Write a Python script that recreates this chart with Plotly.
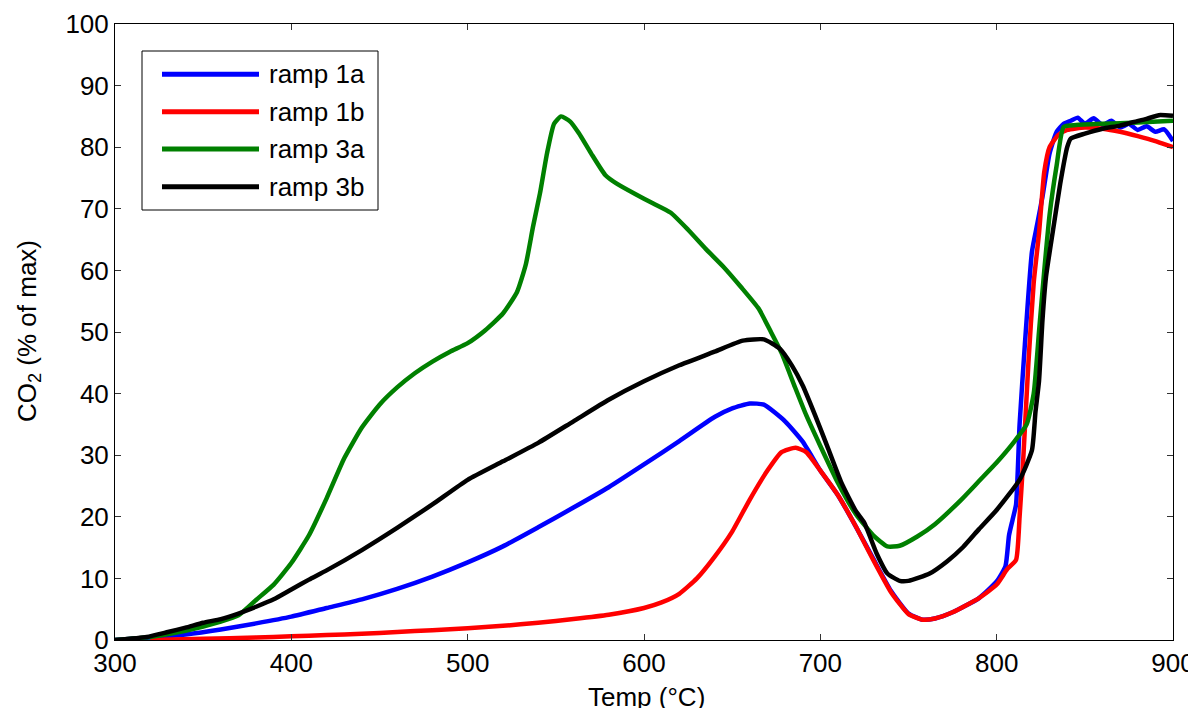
import plotly.graph_objects as go

# ---- data ----
ramp1a_x = [300, 320, 340, 360, 380, 400, 420, 440, 460, 480, 500, 520, 540, 560, 580, 600, 620, 640, 650, 660, 668,
            680, 690, 700, 710, 720, 730, 740, 750, 758, 765, 775, 790, 800, 805, 807, 809, 811, 813, 816, 820, 823,
            826, 830, 834, 838, 842, 846, 850, 855, 860, 865, 870, 875, 880, 885, 890, 895, 900]
ramp1a_y = [0, 0.4, 0.9, 1.7, 2.7, 3.8, 5.2, 6.6, 8.3, 10.3, 12.6, 15.2, 18.3, 21.5, 24.8, 28.5, 32.3, 36.2, 37.6, 38.4, 38.2,
            35.5, 32.2, 27.5, 23.5, 18.5, 13.2, 8.0, 4.3, 3.3, 3.5, 4.5, 6.8, 9.5, 12, 17, 19.5, 22, 35, 48, 63, 67.5,
            72, 79, 82.5, 83.8, 84.3, 84.8, 83.8, 84.7, 83.6, 84.3, 83.2, 83.8, 82.8, 83.4, 82.5, 82.9, 81]

ramp1b_x = [320, 350, 380, 400, 420, 440, 460, 480, 500, 520, 540, 560, 580, 600, 610, 620, 630, 640, 650, 660, 670,
            678, 686, 692, 700, 710, 720, 730, 740, 750, 758, 765, 775, 790, 800, 806, 811, 813, 815, 818, 821, 824,
            827, 830, 835, 840, 850, 860, 870, 880, 890, 895, 900]
ramp1b_y = [0, 0.2, 0.4, 0.6, 0.8, 1.0, 1.3, 1.6, 1.9, 2.3, 2.8, 3.4, 4.1, 5.2, 6.1, 7.5, 10, 13.5, 17.6, 22.8, 27.5,
            30.5, 31.2, 30.5, 27.5, 23.5, 18.5, 13, 7.8, 4.2, 3.3, 3.5, 4.5, 6.8, 9.0, 11.5, 13, 20, 29, 45, 58, 66,
            76, 80, 82, 82.8, 83.2, 83, 82.5, 81.8, 81, 80.5, 80]

ramp3a_x = [300, 320, 340, 360, 370, 380, 390, 400, 410, 420, 430, 440, 450, 460, 470, 480, 490, 500, 510, 520, 528,
            533, 537, 541, 545, 549, 553, 558, 563, 570, 578, 585, 595, 605, 615, 625, 635, 645, 655, 665, 672, 678,
            685, 692, 700, 710, 720, 730, 738, 745, 755, 765, 780, 790, 800, 810, 817, 821, 824, 827, 830, 834, 838,
            845, 860, 880, 900]
ramp3a_y = [0, 0.5, 1.5, 3.0, 4.0, 6.5, 9, 12.5, 17, 23, 29.5, 34.5, 38.2, 41, 43.3, 45.2, 46.8, 48.2, 50.3, 53, 56.5,
            61, 67, 72.5, 79, 83.8, 85, 84.2, 82.3, 79, 75.5, 74, 72.4, 70.9, 69.4, 66.6, 63.5, 60.6, 57.3, 53.8, 50.0, 46.6,
            41.5, 36.5, 31.5, 25.5, 20.5, 17, 15.2, 15.3, 16.8, 18.8, 22.8, 25.8, 28.8, 32.2, 35, 40, 50, 60, 69, 77, 83.3,
            83.6, 83.8, 84, 84.3]

ramp3b_x = [300, 318, 330, 340, 350, 360, 370, 380, 390, 400, 410, 420, 440, 460, 480, 500, 520, 540, 560, 580, 600,
            620, 640, 656, 668, 677, 684, 690, 697, 704, 712, 720, 725, 732, 738, 745, 750, 762, 772, 781, 790, 800,
            813, 820, 822, 824, 826, 828, 832, 836, 840, 842, 850, 860, 870, 878, 885, 892, 900]
ramp3b_y = [0, 0.5, 1.3, 2.0, 2.8, 3.4, 4.3, 5.4, 6.6, 8.2, 9.8, 11.3, 14.6, 18.2, 22, 26, 29, 32, 35.5, 39, 42,
            44.6, 46.8, 48.6, 48.8, 47.3, 44.5, 41.3, 36.5, 31.4, 25.5, 21, 19, 14, 10.8, 9.6, 9.6, 10.8, 12.8, 15.1, 18, 21.1,
            26, 30.8, 37, 42, 52, 59, 66.6, 74, 80, 81.4, 82.2, 83, 83.5, 84.1, 84.6, 85.2, 85.1]

series_names = ["ramp 1a", "ramp 1b", "ramp 3a", "ramp 3b"]
series_colors = ["#0000ff", "#ff0000", "#008000", "#000000"]
x_ticks = [300, 400, 500, 600, 700, 800, 900]
y_ticks = [0, 10, 20, 30, 40, 50, 60, 70, 80, 90, 100]

FONT = "Liberation Sans, Arial, sans-serif"

fig = go.Figure()
for name, color, xs, ys in zip(series_names, series_colors,
                               [ramp1a_x, ramp1b_x, ramp3a_x, ramp3b_x],
                               [ramp1a_y, ramp1b_y, ramp3a_y, ramp3b_y]):
    fig.add_trace(go.Scatter(x=xs, y=ys, mode="lines", name=name,
                             line=dict(color=color, width=4.5, shape="spline", smoothing=0.5),
                             showlegend=False))

# layout geometry (the page body adds an 8px offset, so the figure is drawn 8px smaller)
OFF = 8
W, H = 1188, 700
L, R, T, B = 107, 23, 16, 68
pw, ph = W - L - R, H - T - B
px = lambda p: (p - OFF - L) / pw          # page pixel -> paper fraction
py = lambda p: (H - B - (p - OFF)) / ph

# custom legend (box, sample lines, labels) in paper coordinates
shapes = [dict(type="rect", xref="paper", yref="paper", x0=px(142), x1=px(378), y0=py(210), y1=py(51),
               line=dict(color="#000000", width=1), fillcolor="white", layer="above")]
annotations = []
rows = [74.3, 111.7, 149, 186.7]
for name, color, ry in zip(series_names, series_colors, rows):
    shapes.append(dict(type="line", xref="paper", yref="paper", x0=px(162), x1=px(259), y0=py(ry), y1=py(ry),
                       line=dict(color=color, width=5), layer="above"))
    annotations.append(dict(xref="paper", yref="paper", x=px(267), y=py(ry), text=name, showarrow=False,
                            xanchor="left", yanchor="middle", font=dict(family=FONT, size=26, color="#000000")))

# axis titles
annotations.append(dict(xref="paper", yref="paper", x=px(646), y=py(697), text="Temp (°C)", showarrow=False,
                        xanchor="center", yanchor="middle", font=dict(family=FONT, size=26, color="#000000")))
annotations.append(dict(xref="paper", yref="paper", x=px(28), y=py(331), text="CO<sub>2</sub> (% of max)",
                        showarrow=False, textangle=-90, xanchor="center", yanchor="middle",
                        font=dict(family=FONT, size=26, color="#000000")))

fig.update_layout(
    width=W, height=H,
    margin=dict(l=L, r=R, t=T, b=B, autoexpand=False),
    paper_bgcolor="white", plot_bgcolor="white",
    font=dict(family=FONT, size=26, color="#000000"),
    shapes=shapes, annotations=annotations,
    showlegend=False,
)
fig.update_xaxes(range=[300, 900], tickvals=x_ticks, ticks="inside", ticklen=6, tickcolor="#333333",
                 showline=True, linecolor="#000000", linewidth=1, mirror="ticks", showgrid=False, zeroline=False,
                 tickfont=dict(size=26), automargin=False)
fig.update_yaxes(range=[0, 100], tickvals=y_ticks, ticks="inside", ticklen=6, tickcolor="#333333",
                 showline=True, linecolor="#000000", linewidth=1, mirror="ticks", showgrid=False, zeroline=False,
                 tickfont=dict(size=26), automargin=False)

fig.write_html("out.html")
